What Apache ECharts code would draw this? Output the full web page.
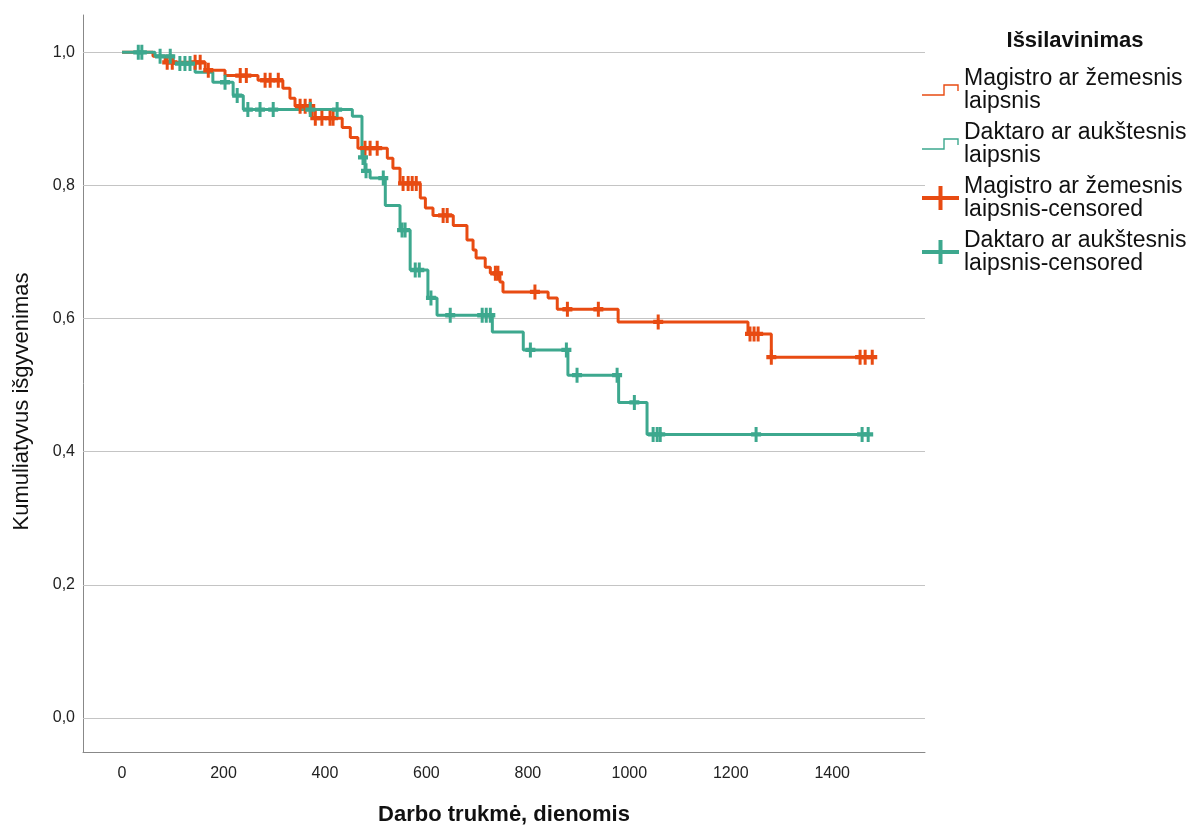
<!DOCTYPE html>
<html>
<head>
<meta charset="utf-8">
<script src="https://cdn.jsdelivr.net/npm/echarts@6/dist/echarts.min.js"></script>
<style>
  html, body { margin: 0; padding: 0; background: #fff; }
  #main { width: 1191px; height: 828px; }
</style>
</head>
<body>
<div id="main"></div>
<script>
// Kaplan-Meier steps (time in days, cumulative survival)
const magTimes = [0, 61, 85, 164, 203, 268, 317, 331, 341, 375, 434, 450, 465, 523, 534, 548, 588, 598, 613, 653, 680, 692, 698, 716, 726, 745, 751, 840, 858, 978, 1234, 1280];
const magSurv  = [1.0, 0.994, 0.985, 0.973, 0.965, 0.958, 0.946, 0.931, 0.919, 0.901, 0.887, 0.872, 0.856, 0.841, 0.826, 0.803, 0.781, 0.766, 0.755, 0.74, 0.718, 0.703, 0.691, 0.677, 0.668, 0.655, 0.64, 0.631, 0.614, 0.595, 0.577, 0.542];
const magCensored = [89, 99, 144, 154, 170, 233, 245, 282, 292, 308, 351, 361, 371, 381, 394, 410, 416, 479, 489, 503, 554, 564, 572, 580, 633, 641, 736, 741, 814, 878, 939, 1057, 1238, 1246, 1254, 1280, 1455, 1465, 1479];

const dakTimes = [0, 65, 101, 144, 179, 219, 239, 454, 473, 479, 489, 519, 548, 568, 603, 621, 730, 791, 879, 979, 1035];
const dakSurv  = [1.0, 0.994, 0.983, 0.97, 0.955, 0.935, 0.914, 0.904, 0.842, 0.822, 0.811, 0.77, 0.733, 0.673, 0.631, 0.605, 0.58, 0.553, 0.515, 0.474, 0.426];
const dakCensored = [32, 39, 75, 95, 114, 124, 134, 203, 227, 248, 272, 298, 371, 424, 475, 481, 515, 552, 558, 578, 586, 609, 647, 710, 718, 726, 805, 876, 897, 976, 1010, 1047, 1055, 1061, 1250, 1459, 1471];

const xTicks = [0, 200, 400, 600, 800, 1000, 1200, 1400];
const yTicks = [0, 0.2, 0.4, 0.6, 0.8, 1.0];

const names = ['Magistro ar žemesnis laipsnis', 'Daktaro ar aukštesnis laipsnis',
               'Magistro ar žemesnis laipsnis-censored', 'Daktaro ar aukštesnis laipsnis-censored'];
const colMag = '#E84B12';
const colDak = '#3DA88E';

function stepData(times, surv, endTime) {
    let pts = times.map((t, i) => [t, surv[i]]);
    pts.push([endTime, surv[surv.length - 1]]);
    return pts;
}
function survAt(times, surv, t) {
    let v = surv[0];
    for (let i = 0; i < times.length; i++) {
        if (times[i] <= t) v = surv[i];
    }
    return v;
}
function censData(times, surv, cens) {
    return cens.map(t => [t, survAt(times, surv, t)]);
}

// legend icons
const stepIcon = 'path://M0,0 L0.01,0 L0,0.01 Z M37,24 L36.99,24 L37,23.99 Z ' +
    'M0,16.3 L21.3,16.3 L21.3,6.3 L36.7,6.3 L36.7,13 L35.3,13 L35.3,7.7 L22.7,7.7 L22.7,17.7 L0,17.7 Z';
const plusIcon = 'path://M0,10 L16.5,10 L16.5,0 L20.5,0 L20.5,10 L37,10 L37,14 L20.5,14 L20.5,24 L16.5,24 L16.5,14 L0,14 Z';
const censMark = 'path://M3.5,0 L6.5,0 L6.5,5 L10,5 L10,9 L6.5,9 L6.5,14 L3.5,14 L3.5,9 L0,9 L0,5 L3.5,5 Z';

let chart = echarts.init(document.getElementById('main'));
let option = {
    backgroundColor: '#fff',
    animation: false,
    textStyle: { fontFamily: 'Liberation Sans, Arial, sans-serif' },
    graphic: [{
        type: 'text',
        x: 1075, y: 30,
        style: { text: 'Išsilavinimas', textAlign: 'center', font: 'bold 22px "Liberation Sans", Arial, sans-serif', fill: '#111' }
    }],
    legend: {
        orient: 'vertical',
        left: 922,
        top: 67,
        padding: 0,
        itemGap: 8,
        itemWidth: 37,
        itemHeight: 24,
        textStyle: { fontSize: 23, lineHeight: 23, color: '#111' },
        formatter: n => n.replace(' laipsnis', '\nlaipsnis'),
        data: [
            { name: names[0], icon: stepIcon, itemStyle: { color: colMag } },
            { name: names[1], icon: stepIcon, itemStyle: { color: colDak } },
            { name: names[2], icon: plusIcon, itemStyle: { color: colMag } },
            { name: names[3], icon: plusIcon, itemStyle: { color: colDak } }
        ]
    },
    grid: { left: 83, right: 266, top: 15, bottom: 76, outerBoundsMode: 'none' },
    xAxis: {
        type: 'value',
        min: -77,
        max: 1583,
        name: 'Darbo trukmė, dienomis',
        nameLocation: 'middle',
        nameGap: 52,
        nameTextStyle: { fontSize: 22, fontWeight: 'bold', color: '#111' },
        axisLine: { onZero: false, lineStyle: { color: '#888', width: 1 } },
        axisTick: { show: false },
        splitLine: { show: false },
        axisLabel: { customValues: xTicks, fontSize: 16, color: '#222', margin: 14, formatter: v => String(v) }
    },
    yAxis: {
        type: 'value',
        min: -0.051,
        max: 1.056,
        name: 'Kumuliatyvus išgyvenimas',
        nameLocation: 'middle',
        nameGap: 50,
        nameTextStyle: { fontSize: 22, color: '#111', padding: [0, 36, 0, 0] },
        axisLine: { show: true, onZero: false, lineStyle: { color: '#888', width: 1 } },
        axisTick: { show: false },
        splitLine: { show: false },
        axisLabel: { customValues: yTicks, fontSize: 16, color: '#222', margin: 8, formatter: v => v.toFixed(1).replace('.', ',') }
    },
    series: [
        {
            name: names[0],
            type: 'line',
            step: 'end',
            showSymbol: false,
            data: stepData(magTimes, magSurv, magCensored[magCensored.length - 1]),
            lineStyle: { color: colMag, width: 3 },
            itemStyle: { color: colMag },
            z: 3,
            markLine: {
                silent: true,
                symbol: 'none',
                label: { show: false },
                lineStyle: { color: '#c4c4c4', type: 'solid', width: 1 },
                data: yTicks.map(v => ({ yAxis: v })),
                z: 1
            }
        },
        {
            name: names[1],
            type: 'line',
            step: 'end',
            showSymbol: false,
            data: stepData(dakTimes, dakSurv, dakCensored[dakCensored.length - 1]),
            lineStyle: { color: colDak, width: 3 },
            itemStyle: { color: colDak },
            z: 4
        },
        {
            name: names[2],
            type: 'scatter',
            symbol: censMark,
            symbolSize: [10, 15],
            data: censData(magTimes, magSurv, magCensored),
            itemStyle: { color: colMag, opacity: 1 },
            z: 5
        },
        {
            name: names[3],
            type: 'scatter',
            symbol: censMark,
            symbolSize: [10, 15],
            data: censData(dakTimes, dakSurv, dakCensored),
            itemStyle: { color: colDak, opacity: 1 },
            z: 6
        }
    ]
};
chart.setOption(option);
</script>
</body>
</html>
